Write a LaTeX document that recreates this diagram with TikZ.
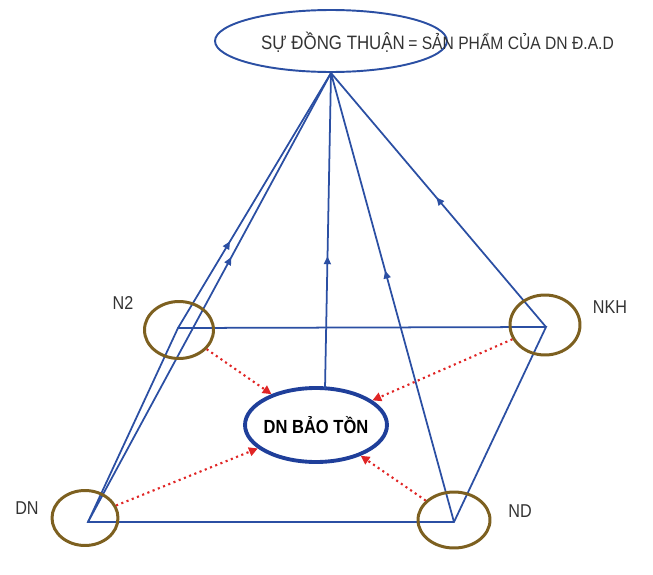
\documentclass[tikz,border=0pt]{standalone}
\usepackage{fontspec}
\setmainfont{Liberation Sans}
\usetikzlibrary{shapes.geometric,arrows.meta,decorations.markings}
\definecolor{bl}{HTML}{2B4FA3}
\definecolor{blk}{HTML}{1F3F9A}
\definecolor{brn}{HTML}{7D6020}
\definecolor{rd}{HTML}{E02525}
\definecolor{txt}{HTML}{333333}
\tikzset{
  bline/.style={draw=bl, line width=1pt},
  midarrow/.style={postaction={decorate,decoration={markings,
     mark=at position #1 with {\arrow{Triangle[length=4.5pt,width=4pt]}}}}},
  ring/.style={draw=brn, line width=1.7pt, ellipse, inner sep=0pt,
     minimum width=1.38cm, minimum height=1.14cm},
  rarrow/.style={draw=rd, line width=1.2pt, dotted, -{Triangle[length=5pt,width=5pt]}, rd},
  lbl/.style={text=txt, font=\fontsize{9.2}{11}\selectfont, inner sep=0pt, yscale=1.15}
}
\begin{document}
\begin{tikzpicture}[x=0.02cm,y=-0.02cm]
\useasboundingbox (0,0) rectangle (653,575);
% corners
\coordinate (apex) at (331,73);
\coordinate (cN2) at (178,328);
\coordinate (cNKH) at (546,327);
\coordinate (cDN) at (88,522);
\coordinate (cND) at (454,522);
% top ellipse
\node[draw=bl, line width=1.1pt, ellipse, inner sep=0pt, minimum width=4.64cm, minimum height=1.24cm] (top) at (331,41) {};
\node[lbl, font=\fontsize{9.6}{11}\selectfont] (toptext) at (333,42) {SỰ ĐỒNG THUẬN};
\node[lbl, anchor=west, font=\fontsize{8.9}{11}\selectfont] (eqtext) at (408,42) {= SẢN PHẨM CỦA DN Đ.A.D};
% central ellipse
\node[draw=blk, line width=2.2pt, ellipse, inner sep=0pt, minimum width=2.84cm, minimum height=1.48cm] (bt) at (316,425) {};
\node[inner sep=0pt, yscale=1.15, font=\bfseries\fontsize{9.4}{11}\selectfont] (bttext) at (316,425) {DN BẢO TỒN};
\coordinate (btTop) at (325,389);
% base square
\draw[bline] (cN2) -- (cNKH) -- (cND) -- (cDN) -- cycle;
% pyramid edges
\draw[bline, midarrow=0.34] (cN2) -- (apex);
\draw[bline, midarrow=0.59] (cDN) -- (apex);
\draw[bline, midarrow=0.51] (cNKH) -- (apex);
\draw[bline, midarrow=0.56] (cND) -- (apex);
\draw[bline, midarrow=0.42] (btTop) -- (apex);
% rings
\node[ring] (rN2) at (179,330) {};
\node[ring, minimum width=1.4cm, minimum height=1.2cm] (rNKH) at (545,325) {};
\node[ring, minimum width=1.32cm, minimum height=1.1cm] (rDN) at (85,518) {};
\node[ring, minimum width=1.44cm, minimum height=1.12cm] (rND) at (454,520) {};
% labels
\node[lbl] (lN2) at (123,303) {N2};
\node[lbl] (lNKH) at (610,307) {NKH};
\node[lbl] (lDN) at (27,508) {DN};
\node[lbl] (lND) at (520,511) {ND};
% red arrows
\draw[rarrow] (rN2) -- (bt);
\draw[rarrow] (rNKH) -- (bt);
\draw[rarrow] (rDN) -- (bt);
\draw[rarrow] (rND) -- (bt);
\end{tikzpicture}
\end{document}
